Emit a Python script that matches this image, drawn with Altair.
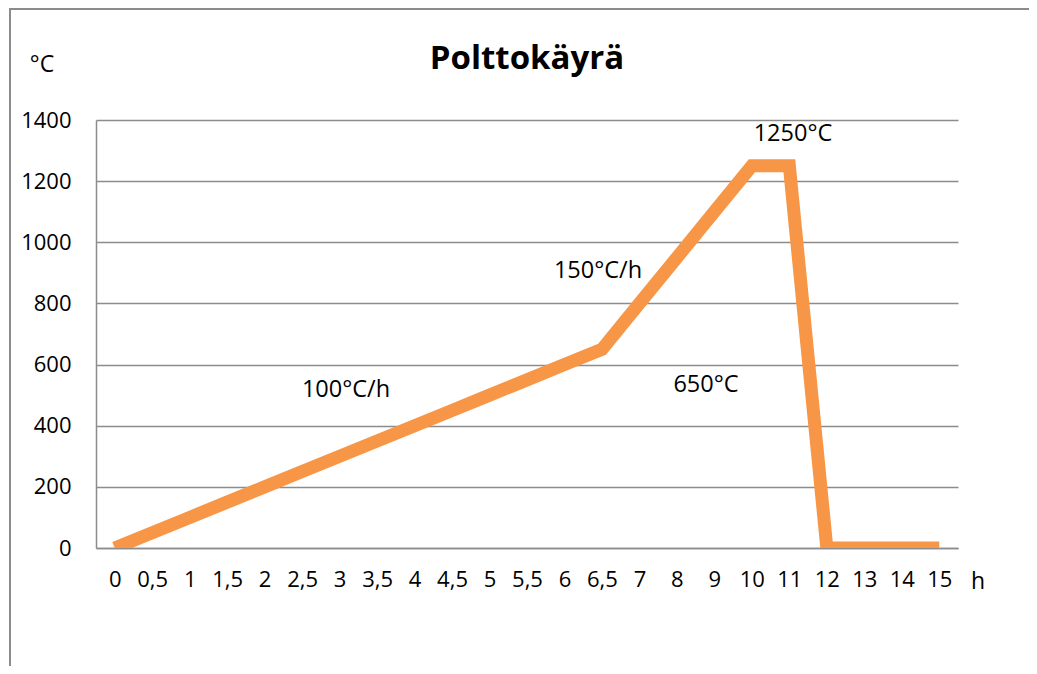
import altair as alt
import pandas as pd

hours = ["0", "0,5", "1", "1,5", "2", "2,5", "3", "3,5", "4", "4,5", "5", "5,5",
         "6", "6,5", "7", "8", "9", "10", "11", "12", "13", "14", "15"]
temps = [0, 50, 100, 150, 200, 250, 300, 350, 400, 450, 500, 550,
         600, 650, 800, 950, 1100, 1250, 1250, 0, 0, 0, 0]

ann_text = ["1250°C", "150°C/h", "650°C", "100°C/h"]
y_ticks = [0, 200, 400, 600, 800, 1000, 1200, 1400]

FONT = "Open Sans"
GRID = "#8c8c8c"
ORANGE = "#F79646"

df = pd.DataFrame({"h": hours, "t": temps})

W, H = 862, 428

x_enc = alt.X("h:N", sort=hours,
              scale=alt.Scale(type="point", padding=0.5),
              axis=alt.Axis(title=None, labelAngle=0, labelFont=FONT, labelFontSize=22,
                            labelColor="#000000", labelPadding=21, ticks=False,
                            domainColor=GRID, domainWidth=1.5, grid=False))
y_enc = alt.Y("t:Q", scale=alt.Scale(domain=[0, 1400], nice=False),
              axis=alt.Axis(title=None, values=y_ticks, format="d", labelFont=FONT,
                            labelFontSize=22, labelColor="#000000", labelPadding=25,
                            ticks=False, domainColor=GRID, domainWidth=1.5,
                            gridColor=GRID, gridWidth=1.5))

line = alt.Chart(df).mark_line(color=ORANGE, strokeWidth=13, clip=True,
                               strokeJoin="miter").encode(x=x_enc, y=y_enc)

def txt(s, x, y, size=23.5, weight="normal"):
    return alt.Chart(pd.DataFrame({"s": [s]})).mark_text(
        font=FONT, fontSize=size, fontWeight=weight, color="#000000",
        align="center", baseline="middle").encode(
        text="s:N", x=alt.value(x), y=alt.value(y))

texts = [
    txt(ann_text[0], 697, 14),
    txt(ann_text[1], 502, 151),
    txt(ann_text[2], 610, 265),
    txt(ann_text[3], 250, 270),
    txt("°C", -54, -55, size=23),
    txt("h", 882, 462, size=23),
    txt("Polttokäyrä", 431, -61, size=33, weight="bold"),
]

border_left = alt.Chart(pd.DataFrame({"a": [0]})).mark_rule(color=GRID, strokeWidth=2).encode(
    x=alt.value(-86), y=alt.value(-112), y2=alt.value(600))
border_top = alt.Chart(pd.DataFrame({"a": [0]})).mark_rule(color=GRID, strokeWidth=2).encode(
    x=alt.value(-86), x2=alt.value(960), y=alt.value(-111))

chart = alt.layer(border_left, border_top, line, *texts).properties(
    width=W, height=H,
    padding={"left": 88, "top": 112, "right": 71, "bottom": 118},
    autosize=alt.AutoSizeParams(type="none"),
).configure_view(stroke=None)

chart.save("out.html", embed_options={"renderer": "svg", "actions": False})
